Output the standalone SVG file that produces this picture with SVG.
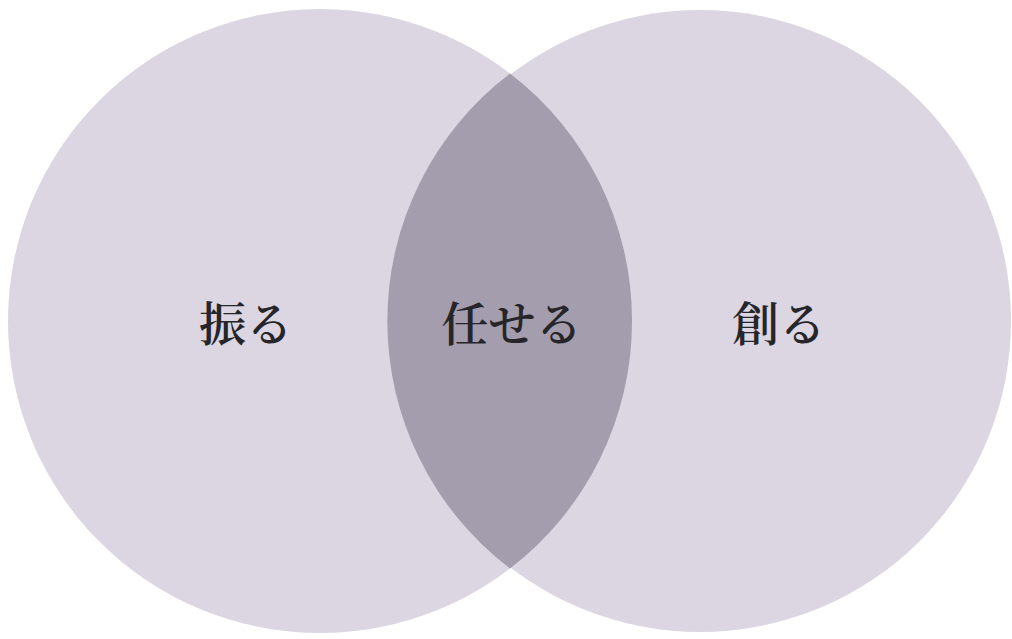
<svg xmlns="http://www.w3.org/2000/svg" width="1012" height="639" viewBox="0 0 1012 639">
  <style>
    .circle { fill: #dbd6e1; }
    .lens { fill: #a49dae; }
    .label { font-family: "Noto Serif CJK JP", "Noto Sans CJK JP", serif; font-size: 47px; font-weight: 600; fill: #26262a; text-anchor: middle; }
  </style>
  <rect width="1012" height="639" fill="#ffffff"/>
  <g id="circle-left">
    <circle class="circle" cx="320" cy="321" r="312"/>
  </g>
  <g id="circle-right">
    <circle class="circle" cx="700" cy="321" r="311"/>
  </g>
  <g id="overlap">
    <path class="lens" d="M510 73.5 A311 311 0 0 0 510 568.5 A312 312 0 0 0 510 73.5 Z"/>
  </g>
  <g id="label-left">
    <text class="label" x="246" y="341">振る</text>
  </g>
  <g id="label-center">
    <text class="label" x="512" y="341">任せる</text>
  </g>
  <g id="label-right">
    <text class="label" x="779" y="341">創る</text>
  </g>
</svg>
